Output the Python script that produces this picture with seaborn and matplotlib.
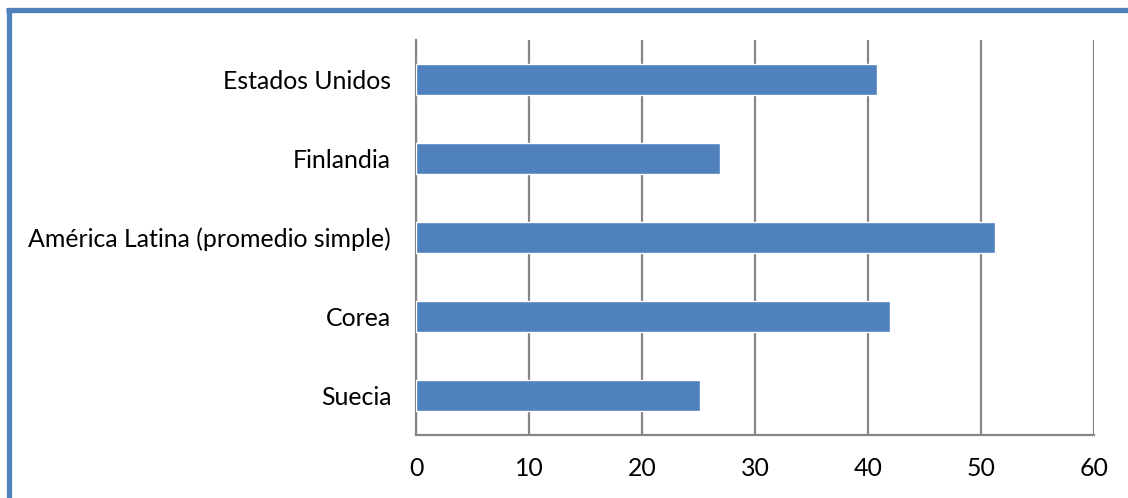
import pandas as pd
import matplotlib.pyplot as plt
import seaborn as sns
from matplotlib.lines import Line2D

# data
paises = ['Estados Unidos', 'Finlandia', 'América Latina (promedio simple)', 'Corea', 'Suecia']
valores = [40.8, 26.9, 51.2, 41.9, 25.1]
xticks = [0, 10, 20, 30, 40, 50, 60]

df = pd.DataFrame({'pais': paises, 'valor': valores})

sns.set_style('white')
plt.rcParams['font.family'] = ['Lato', 'DejaVu Sans']

fig = plt.figure(figsize=(11.28, 4.98), dpi=100)
ax = fig.add_axes([0.369, 0.1265, 0.601, 0.793])

sns.barplot(data=df, x='valor', y='pais', color='#4F81BD', width=0.39,
            saturation=1, ax=ax, zorder=3)

ax.set_xlim(0, 60)
ax.set_xticks(xticks)
ax.set_xlabel('')
ax.set_ylabel('')
ax.grid(axis='x', color='#868686', linewidth=1.6, zorder=0)
ax.tick_params(axis='both', length=0, labelsize=17.9, labelcolor='black')
ax.tick_params(axis='x', pad=16)
ax.tick_params(axis='y', pad=18)
for side in ['top', 'right']:
    ax.spines[side].set_visible(False)
for side in ['left', 'bottom']:
    ax.spines[side].set_color('#868686')
    ax.spines[side].set_linewidth(1.6)

# blue frame around the chart (only left and top are inside the picture)
W, H = 1128, 498
fig.add_artist(Line2D([8.5 / W, 8.5 / W], [0, 1 - 8 / H], color='#4F81BD',
                      linewidth=3.8, transform=fig.transFigure, solid_capstyle='butt'))
fig.add_artist(Line2D([6 / W, 1], [1 - 10.5 / H, 1 - 10.5 / H], color='#4F81BD',
                      linewidth=3.8, transform=fig.transFigure, solid_capstyle='butt'))

fig.savefig('out.png', dpi=100)
